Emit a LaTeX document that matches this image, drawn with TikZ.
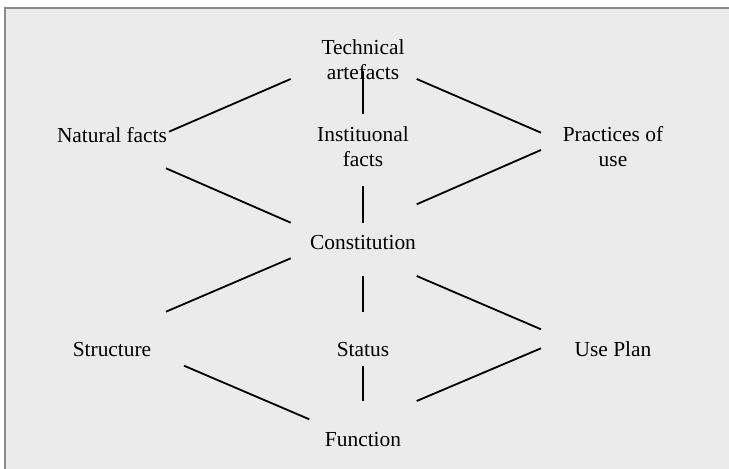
\documentclass[tikz,border=0pt]{standalone}
\usepackage{fontspec}
\setmainfont{Liberation Serif}
\usetikzlibrary{calc}
\definecolor{panelfill}{HTML}{EBEBEB}
\definecolor{panelrule}{HTML}{8A8A8A}
\tikzset{
  label/.style={inner sep=0pt, align=center, text=black,
    font=\fontsize{10.7}{12.5}\selectfont},
  link/.style={draw=black, line width=0.9pt},
}
\begin{document}
\begin{tikzpicture}[x=0.5pt, y=-0.5pt]
  \useasboundingbox (0,0) rectangle (729,469);
  % panel
  \fill[white] (0,0) rectangle (729,469);
  \fill[panelfill] (5,8) rectangle (729,469);
  \draw[panelrule, line width=1pt] (5,469) -- (5,8) -- (729,8);

  % labels
  \node[label] (ta)   at (363,59.5)  {Technical\\artefacts};
  \node[label] (nf)   at (112,135)   {Natural facts};
  \node[label] (inst) at (363,147)   {Instituonal\\facts};
  \node[label] (prac) at (613,147)   {Practices of\\use};
  \node[label] (con)  at (363,243)   {Constitution};
  \node[label] (str)  at (112,349.4) {Structure};
  \node[label] (sta)  at (363,349.4) {Status};
  \node[label] (up)   at (613,349.4) {Use Plan};
  \node[label] (fun)  at (363,440)   {Function};

  % upper diamond
  \draw[link] ($(ta)+(-72.3,19.5)$) -- ($(nf)+(57,-3.3)$);
  \draw[link] ($(ta)+(0,12)$)       -- ($(inst)+(0,-32.7)$);
  \draw[link] ($(ta)+(53.7,19.5)$)  -- ($(prac)+(-72,-14.3)$);
  \draw[link] ($(nf)+(54,33.3)$)    -- ($(con)+(-72.3,-20.3)$);
  \draw[link] ($(inst)+(0,39)$)     -- ($(con)+(0,-20.3)$);
  \draw[link] ($(prac)+(-72,3)$)    -- ($(con)+(53.7,-38.7)$);

  % lower diamond
  \draw[link] ($(con)+(-72.3,15.3)$) -- ($(str)+(54,-37.7)$);
  \draw[link] ($(con)+(0,33)$)       -- ($(sta)+(0,-37.7)$);
  \draw[link] ($(con)+(53.7,33)$)    -- ($(up)+(-72,-20.1)$);
  \draw[link] ($(str)+(72,16.3)$)    -- ($(fun)+(-53.7,-20.7)$);
  \draw[link] ($(sta)+(0,16.6)$)     -- ($(fun)+(0,-39)$);
  \draw[link] ($(up)+(-72,-1.1)$)    -- ($(fun)+(53.7,-39)$);
\end{tikzpicture}
\end{document}
